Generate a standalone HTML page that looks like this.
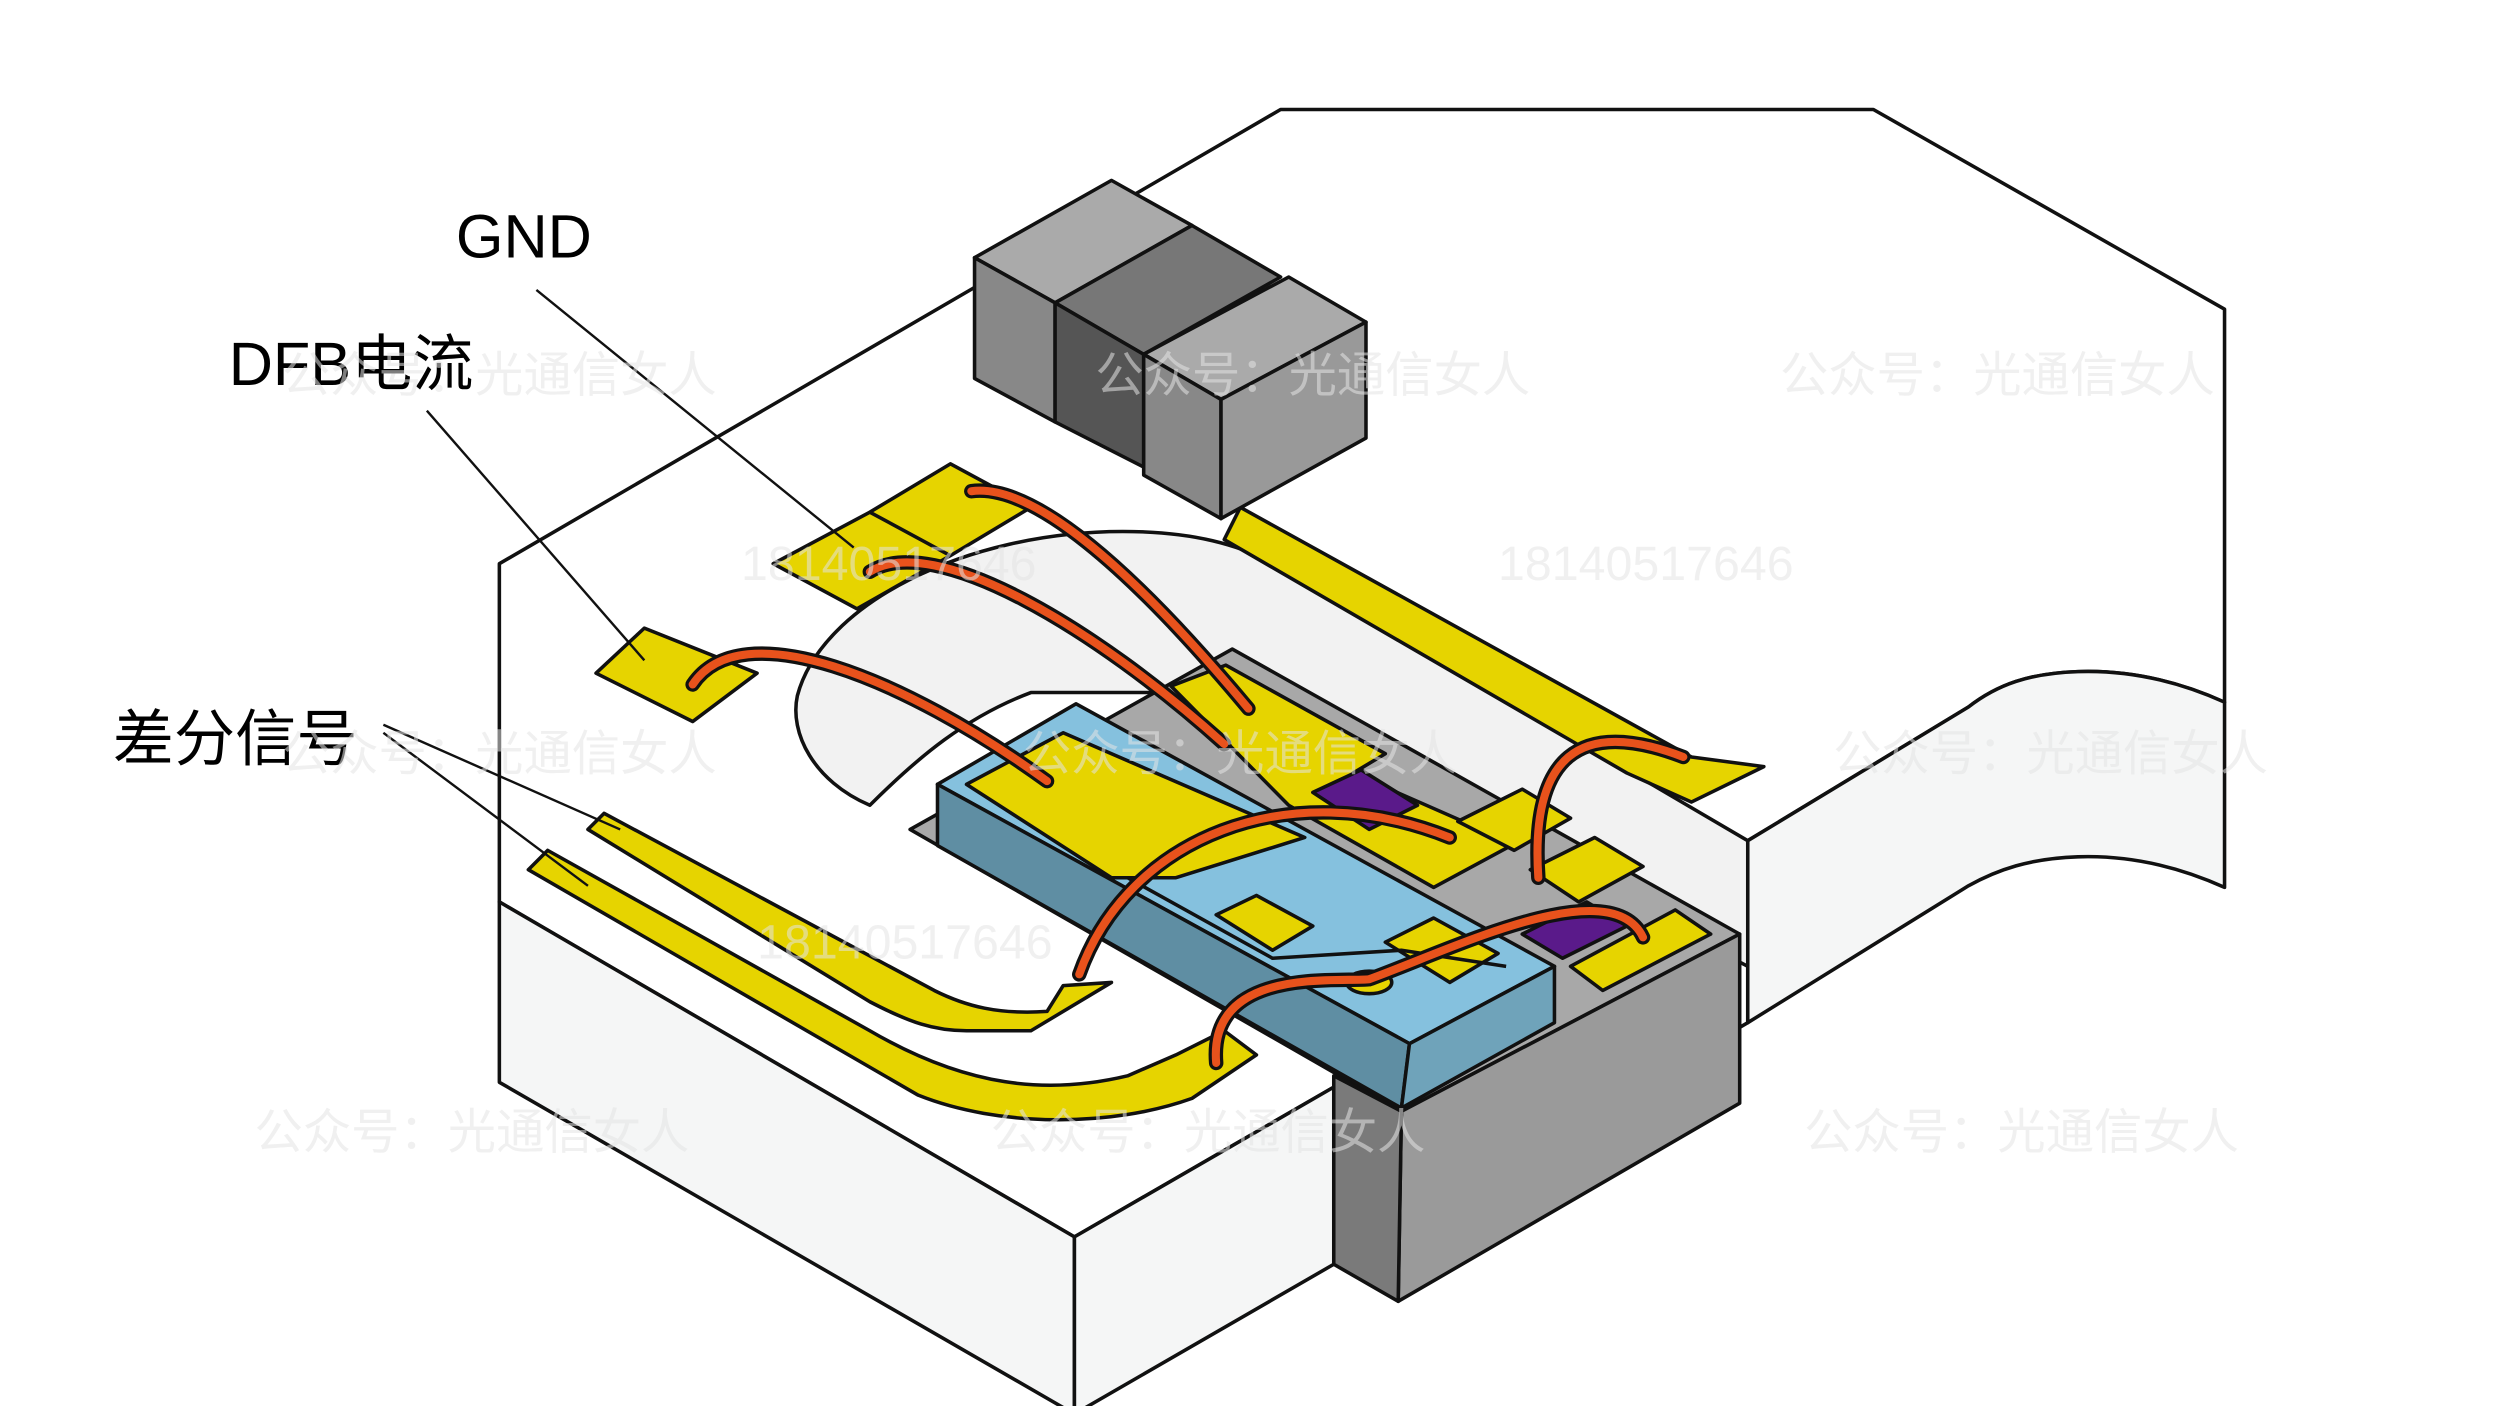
<!DOCTYPE html>
<html><head><meta charset="utf-8"><style>
html,body{margin:0;padding:0;background:#fff;}
svg{display:block}
text{font-family:"Liberation Sans","Noto Sans CJK SC",sans-serif}
</style></head><body>
<svg width="2500" height="1406" viewBox="0 0 1552 873" preserveAspectRatio="none" xmlns="http://www.w3.org/2000/svg">
<g stroke="#111" stroke-width="2.2" stroke-linejoin="round">
<!-- main board top -->
<path d="M310,350 L795,68 L1163,68 L1381,192 L1381,436 C1350,422 1320,416 1290,417 C1260,418 1240,425 1222,439 L1085,522 L1085,635 L828,785 L828,675 L667,768 L310,560 Z" fill="#fff"/>
<!-- right block face -->
<path d="M1085,522 L1222,439 C1240,425 1260,418 1290,417 C1320,416 1350,422 1381,436 L1381,551 C1350,537 1320,531 1290,532 C1260,533 1240,540 1222,550 L1085,635 Z" fill="#f5f6f6"/>
<!-- left front block -->
<path d="M310,560 L667,768 L667,878 L310,672 Z" fill="#f5f6f6"/>
<path d="M667,768 L828,675 L828,785 L667,878 Z" fill="#f5f6f6"/>
<!-- recess -->
<path d="M697,330 C740,330 770,338 795,352 L1085,522 L1085,600 L760,430 L640,430 C600,445 570,470 540,500 C505,485 490,455 495,432 C510,375 600,330 697,330 Z" fill="#f2f2f2"/>
<!-- submount -->
<path d="M565,515 L765,403 L1080,580 L870,690 Z" fill="#a8a8a8"/>
<path d="M870,690 L1080,580 L1080,685 L868,808 Z" fill="#9a9a9a"/>
<path d="M828,668 L870,690 L868,808 L828,785 Z" fill="#7a7a7a"/>
<!-- submount pads -->
<path d="M727,426 L761,413 L860,468 L840,480 L940,524 L890,551 L800,500 Z" fill="#e6d400"/>
<path d="M905,510 L945,490 L975,508 L940,528 Z M950,540 L990,520 L1020,538 L980,560 Z M975,600 L1040,565 L1062,580 L995,615 Z" fill="#e6d400"/>
<path d="M815,492 L845,478 L880,500 L850,515 Z M945,580 L985,560 L1010,575 L970,595 Z" fill="#5a1a8a"/>
<!-- chip -->
<path d="M582,487 L668,437 L965,600 L875,648 Z" fill="#85c1de"/>
<path d="M582,487 L875,648 L870,688 L582,525 Z" fill="#5f8ea3"/>
<path d="M875,648 L965,600 L965,635 L870,688 Z" fill="#6fa3ba"/>
<!-- chip pads -->
<path d="M600,487 L660,455 L810,520 L730,545 L690,545 Z" fill="#e6d400"/>
<path d="M755,568 L780,556 L815,575 L790,590 Z M860,585 L890,570 L930,592 L900,610 Z" fill="#e6d400"/>
<path d="M700,545 L790,595 L870,590 L935,600" fill="none"/>
<ellipse cx="850" cy="610" rx="14" ry="7" fill="#e6d400"/>
<!-- GND / DFB pads -->
<path d="M480,350 L540,318 L590,345 L532,378 Z M540,318 L590,288 L640,315 L590,345 Z" fill="#e6d400"/>
<path d="M370,418 L400,390 L470,418 L430,448 Z" fill="#e6d400"/>
<!-- right trace -->
<path d="M770,315 L1050,470 L1095,476 L1050,498 L1010,480 L760,335 Z" fill="#e6d400"/>
<!-- differential pair -->
<path d="M365,515 L375,505 L580,615 C600,625 620,630 650,628 L660,612 L690,610 L640,640 L600,640 C580,640 565,635 540,622 Z" fill="#e6d400"/>
<path d="M328,540 L340,528 L540,640 C600,675 650,680 700,668 L730,655 L760,640 L780,655 L740,682 C690,700 620,700 570,680 Z" fill="#e6d400"/>
<!-- capacitor -->
<path d="M605,160 L690,112 L740,140 L655,188 Z" fill="#aaa"/>
<path d="M605,160 L655,188 L655,262 L605,235 Z" fill="#888"/>
<path d="M655,188 L740,140 L795,172 L710,220 Z" fill="#777"/>
<path d="M655,188 L710,220 L710,290 L655,262 Z" fill="#555"/>
<path d="M710,220 L800,172 L848,200 L758,248 Z" fill="#aaa"/>
<path d="M710,220 L758,248 L758,322 L710,295 Z" fill="#888"/>
<path d="M758,248 L848,200 L848,272 L758,322 Z" fill="#999"/>
</g>
<!-- wires -->
<g fill="none" stroke-linecap="round">
<g stroke="#111" stroke-width="9">
<path d="M603,305 C640,300 700,350 775,440"/>
<path d="M540,355 C580,330 680,390 760,462"/>
<path d="M430,425 C460,380 560,420 650,485"/>
<path d="M670,605 C700,520 800,480 900,520"/>
<path d="M755,660 C750,600 830,610 850,608 C900,590 1000,540 1020,582"/>
<path d="M955,545 C950,470 980,445 1045,470"/>
</g>
<g stroke="#e8521c" stroke-width="5">
<path d="M603,305 C640,300 700,350 775,440"/>
<path d="M540,355 C580,330 680,390 760,462"/>
<path d="M430,425 C460,380 560,420 650,485"/>
<path d="M670,605 C700,520 800,480 900,520"/>
<path d="M755,660 C750,600 830,610 850,608 C900,590 1000,540 1020,582"/>
<path d="M955,545 C950,470 980,445 1045,470"/>
</g>
</g>
<!-- leader lines -->
<g stroke="#111" stroke-width="1.5" fill="none">
<path d="M333,180 L530,340"/>
<path d="M265,255 L400,410"/>
<path d="M238,450 L385,515"/>
<path d="M238,455 L365,550"/>
</g>
<text x="283" y="160" font-size="38">GND</text>
<text x="142" y="239" font-size="38">DFB电流</text>
<text x="70" y="472" font-size="38">差分信号</text>
<g fill="#e4e4e4" font-size="30" font-family="Liberation Serif,Noto Serif CJK SC,serif" opacity="0.55">
<text x="175" y="243">公众号：光通信女人</text>
<text x="680" y="243">公众号：光通信女人</text>
<text x="1105" y="243">公众号：光通信女人</text>
<text x="460" y="360">18140517646</text>
<text x="930" y="360">18140517646</text>
<text x="175" y="478">公众号：光通信女人</text>
<text x="635" y="478">公众号：光通信女人</text>
<text x="1138" y="478">公众号：光通信女人</text>
<text x="470" y="595">18140517646</text>
<text x="158" y="713">公众号：光通信女人</text>
<text x="615" y="713">公众号：光通信女人</text>
<text x="1120" y="713">公众号：光通信女人</text>
</g>
</svg>
</body></html>
